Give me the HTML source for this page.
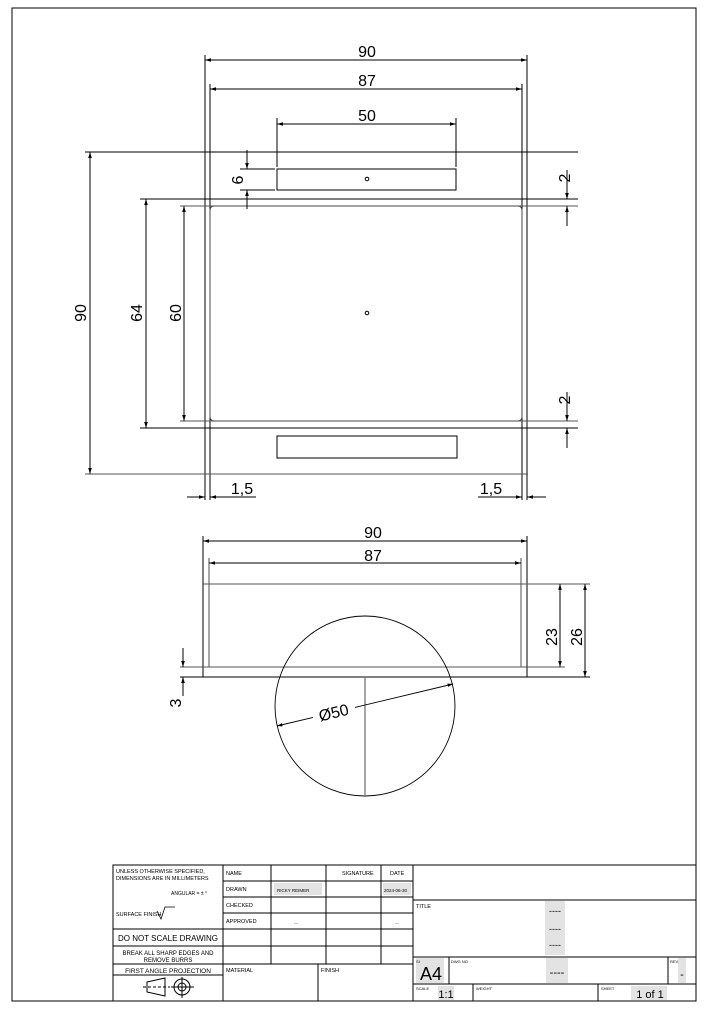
<!DOCTYPE html>
<html><head><meta charset="utf-8"><style>
html,body{margin:0;padding:0;background:#fff}
svg{display:block}
text{font-family:"Liberation Sans","DejaVu Sans",sans-serif;fill:#000}
</style></head><body>
<svg width="710" height="1010" viewBox="0 0 710 1010" xmlns="http://www.w3.org/2000/svg">
<defs>
<marker id="a" viewBox="0 0 10 6" refX="10" refY="3" markerWidth="6" markerHeight="4" orient="auto-start-reverse"><path d="M0,0L10,3L0,6z" fill="#000"/></marker>
</defs>
<rect x="12" y="8" width="684" height="993" fill="none" stroke="#000" stroke-width="1"/>

<g stroke="#000" stroke-width="1" fill="none">
<line x1="205" y1="55" x2="205" y2="500"/>
<line x1="527" y1="55" x2="527" y2="500"/>
<line x1="210" y1="84" x2="210" y2="500"/>
<line x1="522" y1="84" x2="522" y2="500"/>
<line x1="85" y1="152" x2="578" y2="152"/>
<line x1="140" y1="199" x2="578" y2="199"/>
<line x1="180" y1="206" x2="578" y2="206" stroke="#555"/>
<line x1="180" y1="421" x2="578" y2="421" stroke="#555"/>
<line x1="140" y1="428" x2="578" y2="428"/>
<line x1="85" y1="474" x2="528" y2="474" stroke="#555"/>
<rect x="210" y="206" width="312" height="215" rx="4" stroke="#444"/>
<rect x="277" y="169" width="179" height="21"/>
<rect x="277" y="436" width="180" height="22"/>
<circle cx="367" cy="179" r="1.8"/>
<circle cx="367" cy="313" r="1.8"/>
<line x1="277" y1="118" x2="277" y2="167"/>
<line x1="456" y1="118" x2="456" y2="167"/>
<line x1="240" y1="169" x2="275" y2="169"/>
<line x1="240" y1="190" x2="275" y2="190"/>
<line x1="205" y1="60" x2="527" y2="60" marker-start="url(#a)" marker-end="url(#a)"/>
<line x1="210" y1="89" x2="522" y2="89" marker-start="url(#a)" marker-end="url(#a)"/>
<line x1="277" y1="124" x2="456" y2="124" marker-start="url(#a)" marker-end="url(#a)"/>
<line x1="90" y1="152" x2="90" y2="474" marker-start="url(#a)" marker-end="url(#a)"/>
<line x1="146" y1="199" x2="146" y2="428" marker-start="url(#a)" marker-end="url(#a)"/>
<line x1="184" y1="206" x2="184" y2="421" marker-start="url(#a)" marker-end="url(#a)"/>
<line x1="247" y1="150" x2="247" y2="169" marker-end="url(#a)"/>
<line x1="247" y1="209" x2="247" y2="190" marker-end="url(#a)"/>
<line x1="567" y1="170" x2="567" y2="199" marker-end="url(#a)"/>
<line x1="567" y1="226" x2="567" y2="206" marker-end="url(#a)"/>
<line x1="567" y1="392" x2="567" y2="421" marker-end="url(#a)"/>
<line x1="567" y1="448" x2="567" y2="428" marker-end="url(#a)"/>
<line x1="187" y1="497" x2="205" y2="497" marker-end="url(#a)"/>
<line x1="256" y1="497" x2="210" y2="497" marker-end="url(#a)"/>
<line x1="478" y1="497" x2="522" y2="497" marker-end="url(#a)"/>
<line x1="546" y1="497" x2="527" y2="497" marker-end="url(#a)"/>

<line x1="203" y1="536" x2="203" y2="677"/>
<line x1="527" y1="536" x2="527" y2="677"/>
<line x1="209" y1="558" x2="209" y2="667" stroke="#777" stroke-width="1.3"/>
<line x1="521" y1="558" x2="521" y2="667" stroke="#777" stroke-width="1.3"/>
<line x1="203" y1="584" x2="590" y2="584" stroke="#555"/>
<line x1="180" y1="667" x2="565" y2="667" stroke="#555"/>
<line x1="180" y1="677" x2="590" y2="677"/>
<line x1="203" y1="541" x2="527" y2="541" marker-start="url(#a)" marker-end="url(#a)"/>
<line x1="209" y1="563" x2="521" y2="563" marker-start="url(#a)" marker-end="url(#a)"/>
<line x1="560" y1="584" x2="560" y2="667" marker-start="url(#a)" marker-end="url(#a)"/>
<line x1="585" y1="584" x2="585" y2="677" marker-start="url(#a)" marker-end="url(#a)"/>
<line x1="183" y1="648" x2="183" y2="667" marker-end="url(#a)"/>
<line x1="183" y1="696" x2="183" y2="677" marker-end="url(#a)"/>
<circle cx="365" cy="706" r="90" stroke-width="0.9"/>
<line x1="365" y1="677" x2="365" y2="796" stroke="#777" stroke-width="1.3"/>
<line x1="313" y1="717.4" x2="277" y2="726" stroke-width="0.9" marker-end="url(#a)"/>
<line x1="355" y1="707.4" x2="453" y2="684" stroke-width="0.9" marker-end="url(#a)"/>
</g>
<g font-size="16" text-anchor="middle">
<text x="367" y="57">90</text>
<text x="367" y="86">87</text>
<text x="367" y="121">50</text>
<text transform="translate(86,313) rotate(-90)">90</text>
<text transform="translate(142,313) rotate(-90)">64</text>
<text transform="translate(181,313) rotate(-90)">60</text>
<text transform="translate(243,180) rotate(-90)">6</text>
<text transform="translate(570,178) rotate(-90)">2</text>
<text transform="translate(570,400) rotate(-90)">2</text>
<text x="242" y="494">1,5</text>
<text x="491" y="494">1,5</text>
<text x="373" y="538">90</text>
<text x="373" y="561">87</text>
<text transform="translate(557,637) rotate(-90)">23</text>
<text transform="translate(582,637) rotate(-90)">26</text>
<text transform="translate(181,703) rotate(-90)">3</text>
<text transform="translate(335,718) rotate(-13.5)">Ø50</text>
</g>

<g stroke="#000" stroke-width="1" fill="none">
<rect x="113" y="865" width="583" height="136"/>
<line x1="223" y1="865" x2="223" y2="1001"/>
<line x1="271" y1="865" x2="271" y2="964"/>
<line x1="326" y1="865" x2="326" y2="964"/>
<line x1="381" y1="865" x2="381" y2="964"/>
<line x1="413" y1="865" x2="413" y2="1001"/>
<line x1="318" y1="964" x2="318" y2="1001"/>
<line x1="223" y1="881" x2="413" y2="881"/>
<line x1="223" y1="897" x2="413" y2="897"/>
<line x1="223" y1="913" x2="413" y2="913"/>
<line x1="113" y1="929" x2="413" y2="929"/>
<line x1="113" y1="946" x2="413" y2="946"/>
<line x1="113" y1="964" x2="413" y2="964"/>
<line x1="113" y1="975" x2="223" y2="975"/>
<line x1="413" y1="900" x2="696" y2="900"/>
<line x1="413" y1="957" x2="696" y2="957"/>
<line x1="413" y1="984" x2="696" y2="984"/>
<line x1="449" y1="957" x2="449" y2="984"/>
<line x1="668" y1="957" x2="668" y2="984"/>
<line x1="473" y1="984" x2="473" y2="1001"/>
<line x1="598" y1="984" x2="598" y2="1001"/>
<path d="M147,982 L165,978 L165,996 L147,992 Z"/>
<line x1="143" y1="987" x2="170" y2="987" stroke-dasharray="3,2"/>
<circle cx="182" cy="987" r="8"/>
<circle cx="182" cy="987" r="4"/>
<line x1="171" y1="987" x2="194" y2="987"/>
<line x1="182" y1="977" x2="182" y2="998"/>
</g>
<g fill="#e3e3e3">
<rect x="545" y="901" width="20" height="54"/>
<rect x="416" y="958" width="28" height="25"/>
<rect x="546" y="958" width="22" height="25"/>
<rect x="678" y="958" width="8" height="25"/>
<rect x="438" y="986" width="16" height="14"/>
<rect x="631" y="986" width="36" height="14"/>
<rect x="274" y="883" width="48" height="12"/>
<rect x="383" y="883" width="28" height="12"/>
</g>
<g font-size="5.5">
<text x="116" y="873">UNLESS OTHERWISE SPECIFIED,</text>
<text x="116" y="880">DIMENSIONS ARE IN MILLIMETERS</text>
<text x="171" y="895" font-size="5">ANGULAR = ± °</text>
<text x="116" y="916">SURFACE FINISH</text>
<text x="226" y="875">NAME</text>
<text x="342" y="875">SIGNATURE</text>
<text x="390" y="875">DATE</text>
<text x="226" y="891">DRAWN</text>
<text x="226" y="907">CHECKED</text>
<text x="226" y="923">APPROVED</text>
<text x="277" y="892" font-size="4.5">RICKY REIMER</text>
<text x="384" y="892" font-size="4.5">2024-06-30</text>
<text x="226" y="972">MATERIAL</text>
<text x="321" y="972">FINISH</text>
<text x="416" y="908">TITLE</text>
<text x="416" y="963" font-size="4">SI</text>
<text x="451" y="963" font-size="4">DWG NO</text>
<text x="670" y="963" font-size="4">REV.</text>
<text x="416" y="990" font-size="4">SCALE</text>
<text x="476" y="990" font-size="4">WEIGHT</text>
<text x="601" y="990" font-size="4">SHEET</text>
<text x="294" y="924" font-size="4" fill="#888">---</text>
<text x="395" y="924" font-size="4" fill="#888">---</text>
</g>
<path d="M157,911 L161,919 L165,907 L175,907" stroke="#000" fill="none" stroke-width="0.8"/>
<g font-size="8" text-anchor="middle">
<text x="168" y="941">DO NOT SCALE DRAWING</text>
<text x="168" y="955" font-size="6">BREAK ALL SHARP EDGES AND</text>
<text x="168" y="962" font-size="6">REMOVE BURRS</text>
<text x="168" y="973" font-size="6.5">FIRST ANGLE PROJECTION</text>
<text x="555" y="914" font-size="9">----</text>
<text x="555" y="932" font-size="9">----</text>
<text x="555" y="948" font-size="9">----</text>
<text x="557" y="976" font-size="11">----</text>
<text x="682" y="978" font-size="11">-</text>
<text x="431" y="980" font-size="18">A4</text>
<text x="446" y="998" font-size="11">1:1</text>
<text x="650" y="998" font-size="11">1 of 1</text>
</g>
</svg>
</body></html>
